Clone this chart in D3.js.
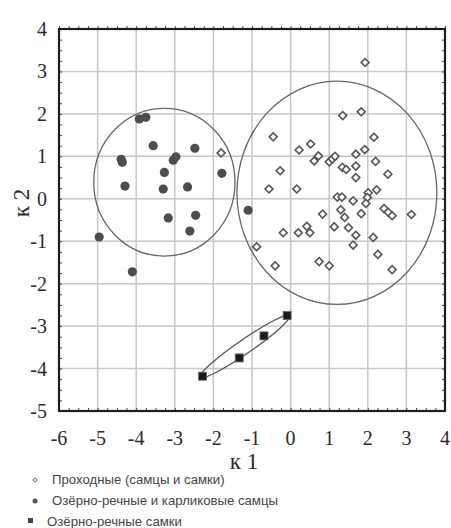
<!DOCTYPE html>
<html>
<head>
<meta charset="utf-8">
<script src="https://cdn.jsdelivr.net/npm/d3@7"></script>
<style>
  body { margin: 0; background: #fff; }
</style>
</head>
<body>
<div id="chart"></div>
<script>
'use strict'

// Проходные (самцы и самки)
const prohodnye = [
  [1.93, 3.21], [1.35, 1.96], [1.83, 2.05], [-0.45, 1.46], [2.16, 1.45],
  [0.22, 1.15], [0.52, 1.29], [1.92, 1.16], [1.69, 1.05], [0.72, 1.01],
  [0.61, 0.89], [1.00, 0.87], [1.08, 0.94], [1.15, 1.00], [2.20, 0.88],
  [-0.27, 0.66], [1.34, 0.74], [1.44, 0.69], [1.69, 0.77], [1.69, 0.50],
  [2.52, 0.58], [-0.56, 0.23], [0.16, 0.23], [1.21, 0.04], [1.33, 0.04],
  [1.62, -0.05], [2.01, 0.14], [1.99, 0.03], [1.95, -0.11], [2.23, 0.21],
  [2.42, -0.23], [2.53, -0.32], [2.63, -0.40], [3.13, -0.37], [0.83, -0.36],
  [1.30, -0.26], [1.40, -0.44], [1.83, -0.35], [-0.19, -0.80], [0.20, -0.80],
  [0.42, -0.65], [0.50, -0.80], [1.13, -0.66], [1.50, -0.68], [1.69, -0.86],
  [1.62, -1.09], [2.14, -0.91], [2.26, -1.31], [-0.88, -1.13], [-0.40, -1.58],
  [0.74, -1.48], [1.00, -1.58], [2.63, -1.67], [-1.80, 1.08]
]

// Озёрно-речные и карликовые самцы
const ozernoSamcy = [
  [-3.92, 1.88], [-3.75, 1.92], [-3.56, 1.25], [-2.48, 1.19], [-4.39, 0.93],
  [-4.36, 0.86], [-3.04, 0.91], [-2.97, 0.99], [-3.27, 0.62], [-1.78, 0.60],
  [-4.29, 0.30], [-3.30, 0.23], [-2.67, 0.28], [-3.17, -0.45], [-2.46, -0.39],
  [-2.61, -0.76], [-4.96, -0.90], [-4.10, -1.72], [-1.10, -0.27]
]

// Озёрно-речные самки
const ozernoSamki = [
  [-2.28, -4.18], [-1.33, -3.75], [-0.69, -3.23], [-0.09, -2.75]
]

// эллипсы: центр и полуоси в единицах осей
const ellipses = [
  { cx: -3.27, cy: 0.39, rx: 1.83, ry: 1.74 },
  { cx: 1.20, cy: 0.14, rx: 2.59, ry: 2.63 }
]
// узкий эллипс самок: концы большой оси
const samkiEllipse = [[-2.35, -4.21], [-0.02, -2.75]]

const xTicks = [-6, -5, -4, -3, -2, -1, 0, 1, 2, 3, 4]
const yTicks = [-5, -4, -3, -2, -1, 0, 1, 2, 3, 4]

const legendLabels = [
  'Проходные (самцы и самки)',
  'Озёрно-речные и карликовые самцы',
  'Озёрно-речные самки'
]

const margin = { top: 29, left: 59 }
const width = 386
const height = 382

const svg = d3.select('#chart')
  .append('svg')
  .attr('width', 451)
  .attr('height', 528)

const g = svg.append('g')
  .attr('transform', `translate(${margin.left}, ${margin.top})`)

const xScale = d3.scaleLinear().domain([-6, 4]).range([0, width])
const yScale = d3.scaleLinear().domain([-5, 4]).range([height, 0])

// сетка
g.selectAll('.gx')
  .data(xTicks)
  .enter()
  .append('line')
  .attr('x1', d => xScale(d))
  .attr('x2', d => xScale(d))
  .attr('y1', 0)
  .attr('y2', height)
  .attr('stroke', '#c6c6c6')
  .attr('stroke-width', 1.5)

g.selectAll('.gy')
  .data(yTicks)
  .enter()
  .append('line')
  .attr('x1', 0)
  .attr('x2', width)
  .attr('y1', d => yScale(d))
  .attr('y2', d => yScale(d))
  .attr('stroke', '#c6c6c6')
  .attr('stroke-width', 1.5)

// мелкие засечки внутрь
const minorX = d3.range(-6, 4.001, 0.25)
const minorY = d3.range(-5, 4.001, 0.25)
g.append('g')
  .call(d3.axisBottom(xScale).tickValues(minorX).tickSize(3).tickFormat(''))
  .call(a => a.select('.domain').remove())
  .selectAll('line').attr('stroke', '#444').attr('y2', -3)
g.append('g')
  .attr('transform', `translate(0, ${height})`)
  .call(d3.axisTop(xScale).tickValues(minorX).tickSize(3).tickFormat(''))
  .call(a => a.select('.domain').remove())
  .selectAll('line').attr('stroke', '#444')
g.append('g')
  .call(d3.axisRight(yScale).tickValues(minorY).tickSize(3).tickFormat(''))
  .call(a => a.select('.domain').remove())
  .selectAll('line').attr('stroke', '#444')
g.append('g')
  .attr('transform', `translate(${width}, 0)`)
  .call(d3.axisLeft(yScale).tickValues(minorY).tickSize(3).tickFormat(''))
  .call(a => a.select('.domain').remove())
  .selectAll('line').attr('stroke', '#444')

// рамка
g.append('rect')
  .attr('width', width)
  .attr('height', height)
  .attr('fill', 'none')
  .attr('stroke', '#1e1e1e')
  .attr('stroke-width', 2.2)

// подписи осей
g.selectAll('.xl')
  .data(xTicks)
  .enter()
  .append('text')
  .attr('x', d => xScale(d))
  .attr('y', height + 34)
  .attr('text-anchor', 'middle')
  .attr('font-family', 'Liberation Serif, serif')
  .attr('font-size', 20)
  .attr('fill', '#2a2a2a')
  .text(d => d)

g.selectAll('.yl')
  .data(yTicks)
  .enter()
  .append('text')
  .attr('x', -12)
  .attr('y', d => yScale(d))
  .attr('dy', '0.35em')
  .attr('text-anchor', 'end')
  .attr('font-family', 'Liberation Serif, serif')
  .attr('font-size', 20)
  .attr('fill', '#2a2a2a')
  .text(d => d)

svg.append('text')
  .attr('x', 244)
  .attr('y', 469)
  .attr('text-anchor', 'middle')
  .attr('font-family', 'Liberation Serif, serif')
  .attr('font-size', 23)
  .attr('fill', '#2a2a2a')
  .text('к 1')

svg.append('text')
  .attr('transform', 'translate(29, 203) rotate(-90)')
  .attr('text-anchor', 'middle')
  .attr('font-family', 'Liberation Serif, serif')
  .attr('font-size', 23)
  .attr('fill', '#2a2a2a')
  .text('к 2')

// эллипсы
g.selectAll('.ell')
  .data(ellipses)
  .enter()
  .append('ellipse')
  .attr('cx', d => xScale(d.cx))
  .attr('cy', d => yScale(d.cy))
  .attr('rx', d => xScale(d.cx + d.rx) - xScale(d.cx))
  .attr('ry', d => yScale(d.cy - d.ry) - yScale(d.cy))
  .attr('fill', 'none')
  .attr('stroke', '#666')
  .attr('stroke-width', 1.3)

const p1 = [xScale(samkiEllipse[0][0]), yScale(samkiEllipse[0][1])]
const p2 = [xScale(samkiEllipse[1][0]), yScale(samkiEllipse[1][1])]
const ang = Math.atan2(p2[1] - p1[1], p2[0] - p1[0]) * 180 / Math.PI
g.append('ellipse')
  .attr('transform', `translate(${(p1[0] + p2[0]) / 2}, ${(p1[1] + p2[1]) / 2}) rotate(${ang})`)
  .attr('rx', Math.hypot(p2[0] - p1[0], p2[1] - p1[1]) / 2)
  .attr('ry', 7)
  .attr('fill', 'none')
  .attr('stroke', '#555')
  .attr('stroke-width', 1.3)

// точки
g.selectAll('.circ')
  .data(ozernoSamcy)
  .enter()
  .append('circle')
  .attr('cx', d => xScale(d[0]))
  .attr('cy', d => yScale(d[1]))
  .attr('r', 4.6)
  .attr('fill', '#4d4d4d')

g.selectAll('.diam')
  .data(prohodnye)
  .enter()
  .append('rect')
  .attr('x', -2.8)
  .attr('y', -2.8)
  .attr('width', 5.6)
  .attr('height', 5.6)
  .attr('transform', d => `translate(${xScale(d[0])}, ${yScale(d[1])}) rotate(45)`)
  .attr('fill', '#fff')
  .attr('stroke', '#555')
  .attr('stroke-width', 1.6)

g.selectAll('.sq')
  .data(ozernoSamki)
  .enter()
  .append('rect')
  .attr('x', d => xScale(d[0]) - 4)
  .attr('y', d => yScale(d[1]) - 4)
  .attr('width', 8)
  .attr('height', 8)
  .attr('fill', '#1a1a1a')
  .attr('stroke', '#666')
  .attr('stroke-width', 0.8)

// легенда
const legend = svg.append('g')
legend.selectAll('text')
  .data(legendLabels)
  .enter()
  .append('text')
  .attr('x', (d, i) => i === 2 ? 47 : 52)
  .attr('y', (d, i) => 484 + i * 21)
  .attr('font-family', 'Liberation Sans, Arial, sans-serif')
  .attr('font-size', 13.2)
  .attr('fill', '#444')
  .text(d => d)

legend.append('rect')
  .attr('x', -1.5).attr('y', -1.5).attr('width', 3).attr('height', 3)
  .attr('transform', 'translate(35, 480) rotate(45)')
  .attr('fill', '#fff').attr('stroke', '#777').attr('stroke-width', 1)
legend.append('circle')
  .attr('cx', 35).attr('cy', 501).attr('r', 2.5).attr('fill', '#555')
legend.append('rect')
  .attr('x', 28).attr('y', 518).attr('width', 5).attr('height', 5).attr('fill', '#444')
</script>
</body>
</html>
